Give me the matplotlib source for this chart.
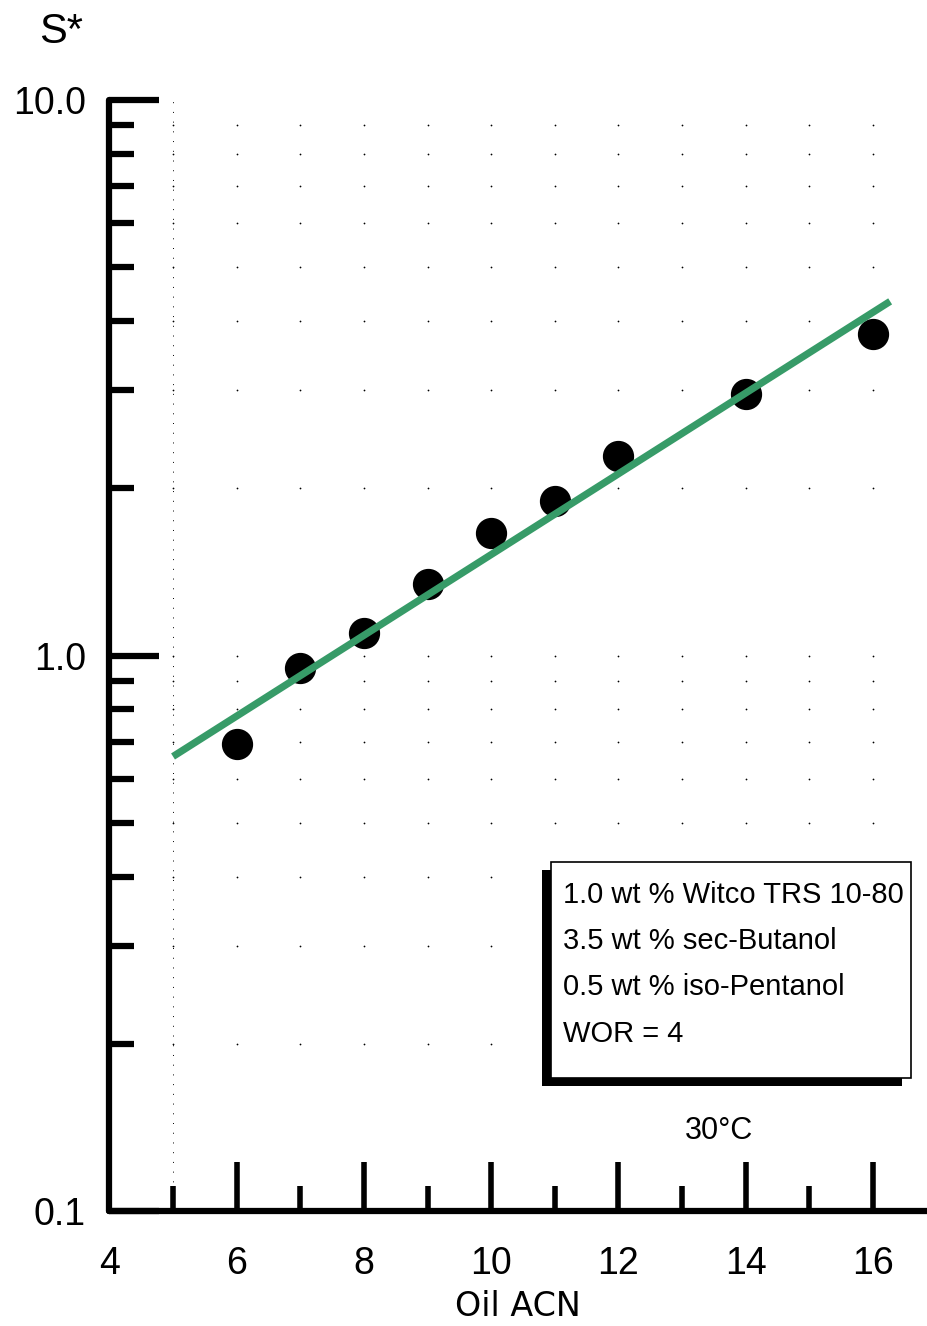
import matplotlib
matplotlib.use('Agg')
import matplotlib.pyplot as plt
import numpy as np
from matplotlib import font_manager
from matplotlib.font_manager import FontProperties
from matplotlib.patches import Rectangle
from matplotlib.ticker import FixedLocator, FixedFormatter, NullFormatter

# ---------------- data ----------------
acn = [6, 7, 8, 9, 10, 11, 12, 14, 16]
s_star = [0.694, 0.949, 1.097, 1.346, 1.665, 1.894, 2.288, 2.959, 3.794]

fit_acn = [5.0, 16.27]
fit_s = [0.658, 4.34]

x_major = [4, 6, 8, 10, 12, 14, 16]
x_minor = [5, 7, 9, 11, 13, 15]
y_major = [0.1, 1.0, 10.0]
y_major_labels = ['0.1', '1.0', '10.0']
y_minor = [0.2, 0.3, 0.4, 0.5, 0.6, 0.7, 0.8, 0.9, 2, 3, 4, 5, 6, 7, 8, 9]
grid_x = [5, 6, 7, 8, 9, 10, 11, 12, 13, 14, 15, 16]
grid_y = [0.2, 0.3, 0.4, 0.5, 0.6, 0.7, 0.8, 0.9, 1.0, 2, 3, 4, 5, 6, 7, 8, 9]

box_lines = ["1.0 wt % Witco TRS 10-80",
             "3.5 wt % sec-Butanol",
             "0.5 wt % iso-Pentanol",
             "WOR = 4"]
temp_label = "30°C"
x_label = "Oil ACN"
y_label = "S*"


def pick(name, fallback):
    try:
        font_manager.findfont(FontProperties(family=name), fallback_to_default=False)
        return name
    except Exception:
        return fallback


SANS = pick('Liberation Sans', 'DejaVu Sans')
NARROW = pick('Liberation Sans Narrow', None)

W, H = 928, 1326
fig = plt.figure(figsize=(W / 100, H / 100), dpi=100)


def fx(px):
    return px / W


def fy(py):
    return 1 - py / H


left_px, right_px, top_px, bot_px = 109.4, 928, 100, 1211
ax = fig.add_axes([fx(left_px), fy(bot_px), fx(right_px) - fx(left_px), fy(top_px) - fy(bot_px)])
ax.set_yscale('log')
ax.set_xlim(4, 16.865)
ax.set_ylim(0.1, 10)

# dotted grid (dots at intersections)
gx, gy = np.meshgrid(grid_x, grid_y)
ax.scatter(gx.ravel(), gy.ravel(), s=1.6, color='black', linewidths=0, zorder=1)
ax.plot([grid_x[0], grid_x[0]], [0.1, 10], color='black', lw=0.7,
        linestyle=(0, (1, 9)), zorder=1)

# data
ax.plot(acn, s_star, 'o', color='black', markersize=21.5, zorder=3)
ax.plot(fit_acn, fit_s, '-', color='#379b68', lw=5.2, solid_capstyle='butt', zorder=4)

# spines
for side in ['top', 'right']:
    ax.spines[side].set_visible(False)
for side in ['left', 'bottom']:
    ax.spines[side].set_linewidth(4.5)
    ax.spines[side].set_color('black')
    ax.spines[side].set_capstyle('round')

# ticks
ax.xaxis.set_major_locator(FixedLocator(x_major))
ax.xaxis.set_minor_locator(FixedLocator(x_minor))
ax.xaxis.set_minor_formatter(NullFormatter())
ax.yaxis.set_major_locator(FixedLocator(y_major))
ax.yaxis.set_major_formatter(FixedFormatter(y_major_labels))
ax.yaxis.set_minor_locator(FixedLocator(y_minor))
ax.yaxis.set_minor_formatter(NullFormatter())

ax.tick_params(axis='x', which='major', direction='in', length=35, width=4,
               pad=25, labelsize=27)
ax.tick_params(axis='x', which='minor', direction='in', length=18, width=4)
ax.tick_params(axis='y', which='major', direction='in', length=36, width=4.5,
               pad=17, labelsize=27)
ax.tick_params(axis='y', which='minor', direction='in', length=18, width=4.5)
for lab in ax.get_xticklabels() + ax.get_yticklabels():
    lab.set_fontfamily(SANS)

# axis titles
fig.text(fx(517.5), fy(1306), x_label, ha='center', va='center',
         fontsize=24, family='DejaVu Sans')
fig.text(fx(61), fy(32), y_label, ha='center', va='center',
         fontsize=30, family=SANS)

# annotation box with shadow
bx0, bx1, by0, by1 = 550.7, 911, 861.7, 1077.7
sdx, sdy = -9, 8
shadow = Rectangle((fx(bx0 + sdx), fy(by1 + sdy)), fx(bx1) - fx(bx0), fy(by0) - fy(by1),
                   transform=fig.transFigure, facecolor='black', edgecolor='black',
                   lw=0, zorder=5)
box = Rectangle((fx(bx0), fy(by1)), fx(bx1) - fx(bx0), fy(by0) - fy(by1),
                transform=fig.transFigure, facecolor='white', edgecolor='black',
                lw=1.2, zorder=6)
fig.patches.extend([shadow, box])

line_y = [895, 941, 987, 1034]
if NARROW:
    bfam, bsize = NARROW, 25
else:
    bfam, bsize = SANS, 21
for txt, yy in zip(box_lines, line_y):
    fig.text(fx(563), fy(yy), txt, ha='left', va='center', fontsize=bsize,
             family=bfam, zorder=7)

fig.text(fx(719), fy(1131), temp_label, ha='center', va='center',
         fontsize=22, family=SANS)

fig.savefig('out.png', dpi=100)
